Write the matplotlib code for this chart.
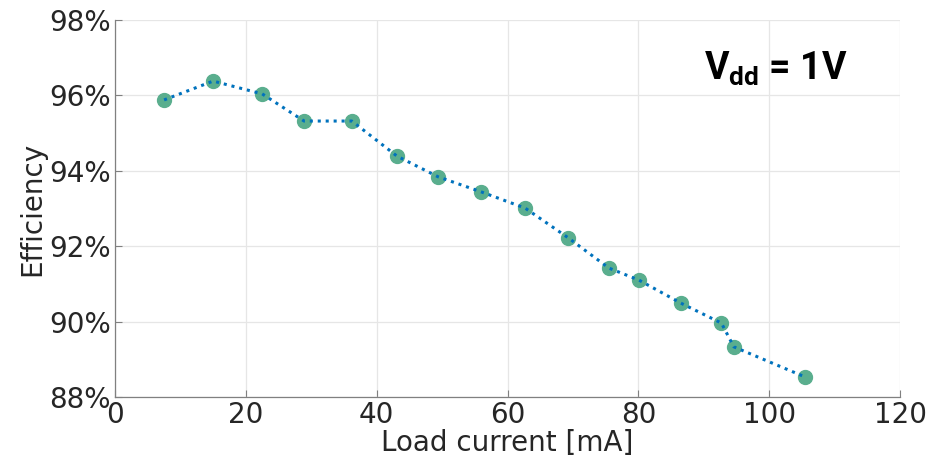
import matplotlib
matplotlib.use("Agg")
import matplotlib.pyplot as plt
from matplotlib.ticker import FuncFormatter

plt.rcParams["font.family"] = ["DejaVu Sans"]
plt.rcParams["mathtext.fontset"] = "custom"
plt.rcParams["mathtext.rm"] = "Roboto:bold"
plt.rcParams["mathtext.bf"] = "Roboto:bold"

# load current [mA] and efficiency [%]
load_current = [7.5, 15.0, 22.5, 28.9, 36.2, 43.1, 49.4, 56.0, 62.7, 69.3,
                75.5, 80.1, 86.5, 92.7, 94.6, 105.5]
efficiency = [95.88, 96.38, 96.04, 95.32, 95.32, 94.39, 93.84, 93.44, 93.01, 92.22,
              91.42, 91.10, 90.49, 89.96, 89.33, 88.53]

x_ticks = [0, 20, 40, 60, 80, 100, 120]
y_ticks = [88, 90, 92, 94, 96, 98]

fig = plt.figure(figsize=(9.29, 4.73), dpi=100)
ax = fig.add_axes([0.1238, 0.1607, 0.845, 0.797])

ax.plot(load_current, efficiency, linestyle="none", marker="o", markersize=10,
        color="#5aae8e", zorder=2)
ax.plot(load_current, efficiency, linestyle=(0, (1, 1.6)), color="#0072BD",
        linewidth=2.2, zorder=3)

ax.set_xlim(0, 120)
ax.set_ylim(88, 98)
ax.set_xticks(x_ticks)
ax.set_yticks(y_ticks)
ax.yaxis.set_major_formatter(FuncFormatter(lambda v, p: f"{v:.0f}%"))
ax.grid(True, color="#e6e6e6", linewidth=0.9)
ax.set_axisbelow(True)

for s in ["top", "right"]:
    ax.spines[s].set_visible(False)
for s in ["left", "bottom"]:
    ax.spines[s].set_color("#808080")
    ax.spines[s].set_linewidth(0.9)

ax.tick_params(direction="in", length=5, width=0.8, color="#808080",
               labelsize=20, labelcolor="#262626", pad=3)
ax.set_xlabel("Load current [mA]", fontsize=20, color="#262626", labelpad=0)
ax.set_ylabel("Efficiency", fontsize=20, color="#262626", labelpad=2)

ax.text(101, 96.7, r"$\mathbf{V_{dd}}$ = 1V", fontsize=27,
        family="Roboto", fontweight="bold",
        ha="center", va="center", color="black")

fig.savefig("out.png", dpi=100)
